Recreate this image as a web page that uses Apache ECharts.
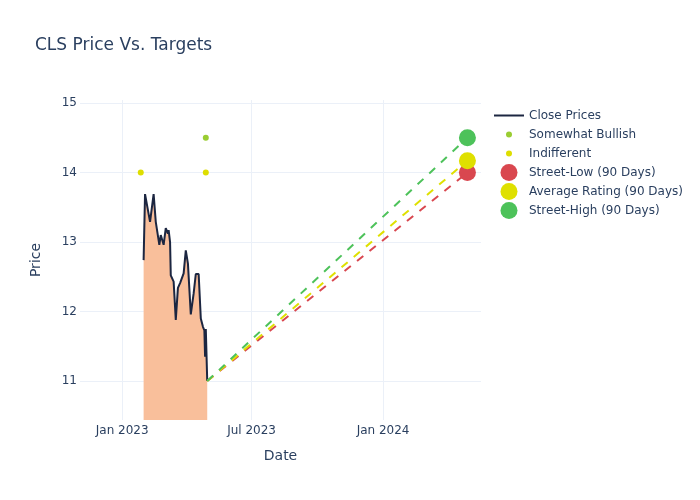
<!DOCTYPE html>
<html>
<head>
<meta charset="utf-8">
<script src="https://cdn.jsdelivr.net/npm/echarts@6/dist/echarts.min.js"></script>
<style>html,body{margin:0;padding:0;background:#fff}#c{width:700px;height:500px}</style>
</head>
<body>
<div id="c"></div>
<script>
// ---- data ----
const priceDates = ['2023-01-31','2023-02-02','2023-02-09','2023-02-14','2023-02-17','2023-02-22','2023-02-24','2023-02-28',
  '2023-03-03','2023-03-06','2023-03-07','2023-03-09','2023-03-10','2023-03-14','2023-03-17','2023-03-20','2023-03-23',
  '2023-03-24','2023-03-28','2023-03-31','2023-04-03','2023-04-07','2023-04-11','2023-04-14','2023-04-18','2023-04-21',
  '2023-04-24','2023-04-26','2023-04-27','2023-04-28','2023-04-30'];
const closePrices = [12.74,13.69,13.29,13.69,13.29,12.96,13.10,12.96,
  13.20,13.12,13.17,13.00,12.52,12.43,11.88,12.34,12.41,
  12.43,12.55,12.88,12.69,11.96,12.26,12.54,12.54,11.90,
  11.78,11.73,11.35,11.75,11.00];
const somewhatBullishDates = ['2023-04-28'];
const somewhatBullishValues = [14.5];
const indifferentDates = ['2023-01-27','2023-04-28'];
const indifferentValues = [14.0, 14.0];
const targetDate = '2024-04-28';
const streetLow = 14.0;
const averageRating = 14.17;
const streetHigh = 14.5;
const xTickDates = ['2023-01-01','2023-07-01','2024-01-01'];
const xTickLabels = ['Jan 2023','Jul 2023','Jan 2024'];
const yTicks = [11, 12, 13, 14, 15];

// ---- chart ----
const FONT = 'DejaVu Sans';
const TXT = '#2a3f5f';
const GRID = '#ebf0f8';
const ts = d => Date.UTC(+d.slice(0,4), +d.slice(5,7) - 1, +d.slice(8,10));
const xTickTs = xTickDates.map(ts);
const lastDate = priceDates[priceDates.length - 1];
const lastClose = closePrices[closePrices.length - 1];
const pairs = (ds, vs) => ds.map((d, i) => [ts(d), vs[i]]);

const chart = echarts.init(document.getElementById('c'), null, {renderer: 'canvas'});
const legendText = (pad) => ({color: TXT, fontSize: 12, fontFamily: FONT, lineHeight: 19, padding: [0, 0, 0, pad]});
const legendBase = {orient: 'vertical', itemGap: 0, padding: 0, selectedMode: false};
chart.setOption({
  animation: false,
  backgroundColor: '#fff',
  title: {text: 'CLS Price Vs. Targets', left: 35, top: 37, padding: 0,
    textStyle: {color: TXT, fontSize: 17, fontWeight: 'normal', fontFamily: FONT}},
  legend: [
    Object.assign({}, legendBase, {left: 494, top: 106, itemWidth: 30, itemHeight: 2, icon: 'rect',
      textStyle: legendText(0),
      data: [{name: 'Close Prices', itemStyle: {color: '#1c2641'}}]}),
    Object.assign({}, legendBase, {left: 506, top: 125, itemWidth: 6, itemHeight: 6, icon: 'circle',
      textStyle: legendText(12),
      data: ['Somewhat Bullish', 'Indifferent']}),
    Object.assign({}, legendBase, {left: 500.5, top: 163, itemWidth: 17, itemHeight: 17, icon: 'circle',
      textStyle: legendText(6.5),
      data: ['Street-Low (90 Days)', 'Average Rating (90 Days)', 'Street-High (90 Days)']})
  ],
  grid: {left: 80, right: 219, top: 100, bottom: 80, containLabel: false},
  xAxis: {
    type: 'value', min: ts('2022-11-03'), max: ts('2024-05-17'),
    name: 'Date', nameLocation: 'middle', nameGap: 29,
    nameTextStyle: {color: TXT, fontSize: 14, fontFamily: FONT},
    axisLine: {show: false}, axisTick: {show: false, customValues: xTickTs},
    axisLabel: {customValues: xTickTs, color: TXT, fontSize: 12, fontFamily: FONT, margin: 5,
      formatter: v => { const i = xTickTs.indexOf(v); return i >= 0 ? xTickLabels[i] : ''; }},
    splitLine: {show: true, lineStyle: {color: GRID, width: 1}}
  },
  yAxis: {
    type: 'value', min: 10.44, max: 15.043,
    name: 'Price', nameLocation: 'middle', nameGap: 37, nameRotate: 90,
    nameTextStyle: {color: TXT, fontSize: 14, fontFamily: FONT},
    axisLine: {show: false}, axisTick: {show: false, customValues: yTicks},
    axisLabel: {customValues: yTicks, color: TXT, fontSize: 12, fontFamily: FONT, margin: 3},
    splitLine: {show: true, lineStyle: {color: GRID, width: 1}}
  },
  series: [
    {name: 'Close Prices', type: 'line', data: pairs(priceDates, closePrices), symbol: 'none',
      color: '#1c2641', lineStyle: {color: '#1c2641', width: 2},
      areaStyle: {color: '#f9bf9b', opacity: 1, origin: 'start'}, z: 2},
    {name: 'lowLine', type: 'line', data: pairs([lastDate, targetDate], [lastClose, streetLow]), symbol: 'none',
      lineStyle: {color: '#d9474f', width: 2, type: [8, 8]}, z: 3},
    {name: 'avgLine', type: 'line', data: pairs([lastDate, targetDate], [lastClose, averageRating]), symbol: 'none',
      lineStyle: {color: '#dfe000', width: 2, type: [8, 8]}, z: 3},
    {name: 'highLine', type: 'line', data: pairs([lastDate, targetDate], [lastClose, streetHigh]), symbol: 'none',
      lineStyle: {color: '#4dc25a', width: 2, type: [8, 8]}, z: 3},
    {name: 'Somewhat Bullish', type: 'scatter', data: pairs(somewhatBullishDates, somewhatBullishValues),
      symbolSize: 6, itemStyle: {color: '#9acd32', opacity: 1}, z: 4},
    {name: 'Indifferent', type: 'scatter', data: pairs(indifferentDates, indifferentValues),
      symbolSize: 6, itemStyle: {color: '#dede00', opacity: 1}, z: 4},
    {name: 'Street-Low (90 Days)', type: 'scatter', data: pairs([targetDate], [streetLow]),
      symbolSize: 17, itemStyle: {color: '#d9474f', opacity: 1}, z: 5},
    {name: 'Average Rating (90 Days)', type: 'scatter', data: pairs([targetDate], [averageRating]),
      symbolSize: 17, itemStyle: {color: '#dfe000', opacity: 1}, z: 5},
    {name: 'Street-High (90 Days)', type: 'scatter', data: pairs([targetDate], [streetHigh]),
      symbolSize: 17, itemStyle: {color: '#4dc25a', opacity: 1}, z: 5}
  ]
});
</script>
</body>
</html>
